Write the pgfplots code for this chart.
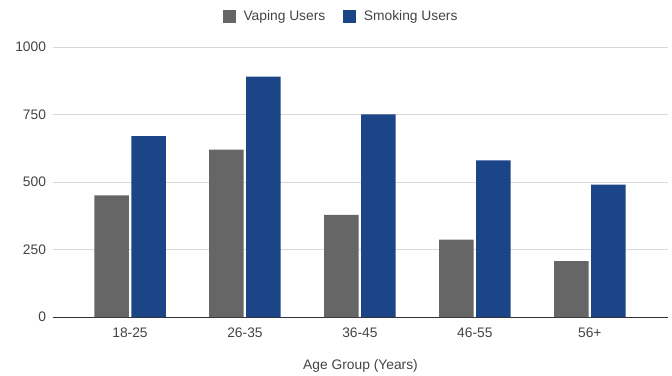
\documentclass[border=0pt]{standalone}
\usepackage{pgfplots}
\pgfplotsset{compat=1.18}
\usepackage{fontspec}
\setmainfont{Liberation Sans}
\definecolor{vape}{HTML}{666666}
\definecolor{smoke}{HTML}{1C4587}
\definecolor{txt}{HTML}{444444}
\definecolor{gridc}{HTML}{D9D9D9}
\begin{document}
\begin{tikzpicture}
\useasboundingbox (0,0) rectangle (672pt,375pt);
\begin{axis}[
  at={(53pt,58pt)}, anchor=south west,
  scale only axis, width=615pt, height=270pt,
  xmin=-0.67, xmax=4.68, ymin=0, ymax=1000,
  ytick={0,250,500,750,1000},
  xtick={0,1,2,3,4},
  xticklabels={18-25,26-35,36-45,46-55,56+},
  axis line style={draw=none},
  major tick style={draw=none},
  ymajorgrids,
  grid style={draw=gridc, line width=0.9pt},
  extra y ticks={0},
  extra y tick labels={},
  extra y tick style={grid style={draw=black!80, line width=1pt}},
  tick label style={font=\fontsize{13.8}{16}\selectfont, text=txt},
  yticklabel style={xshift=-3.5pt},
  xticklabel style={yshift=-3pt},
  /pgf/number format/assume math mode=true,
  /pgf/number format/1000 sep={},
  xlabel={Age Group (Years)},
  every axis x label/.style={at={(axis description cs:0.5,0)}, anchor=center, yshift=-49pt, font=\fontsize{13.8}{16}\selectfont, text=txt},
  ybar,
  bar width=34.5pt,
  legend style={at={(axis description cs:0.4686,1.1137)}, anchor=center, draw=none, fill=none,
    legend columns=2, font=\fontsize{13.8}{16}\selectfont, text=txt,
    /tikz/every odd column/.append style={column sep=6pt},
    /tikz/every even column/.append style={column sep=16pt}},
  legend image code/.code={\fill[#1] (0pt,-6.3pt) rectangle (12.6pt,6.3pt);},
]
\addplot[fill=vape, draw=none, bar shift=-18.5pt] coordinates {(0,450) (1,620) (2,378) (3,287) (4,207)};
\addplot[fill=smoke, draw=none, bar shift=18.5pt] coordinates {(0,670) (1,890) (2,750) (3,580) (4,490)};
\legend{Vaping Users, Smoking Users}
\end{axis}
\end{tikzpicture}
\end{document}
